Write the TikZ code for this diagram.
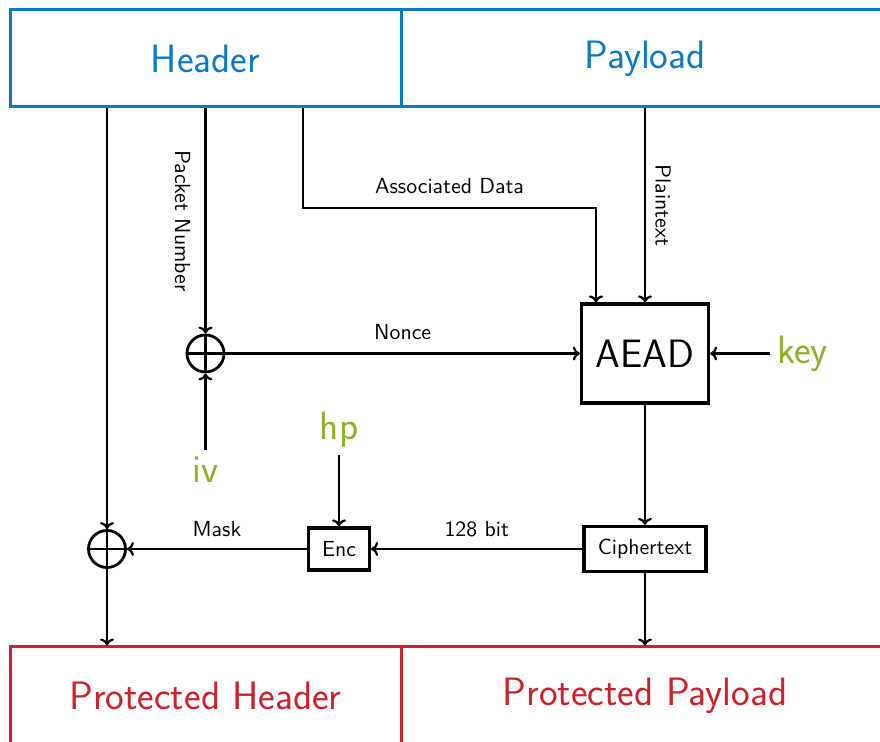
\documentclass[tikz,border=0pt]{standalone}
\usepackage{fontspec}
\usetikzlibrary{arrows.meta}
\definecolor{hdrblue}{RGB}{10,122,194}
\definecolor{prtred}{RGB}{206,32,42}
\definecolor{keygreen}{RGB}{140,178,42}
\begin{document}
\begin{tikzpicture}[x=0.5pt,y=-0.5pt,
  big/.style={font=\sffamily\fontsize{19.8}{23}\selectfont},
  small/.style={font=\sffamily\fontsize{10.9}{13}\selectfont},
  field/.style={draw=#1, text=#1, line width=1.5pt, minimum height=48.5pt,
    inner sep=0pt, big},
  block/.style={draw, line width=1.6pt, inner sep=0pt},
  secret/.style={big, text=keygreen},
  xorop/.style={circle, draw, line width=1.4pt, minimum size=18.5pt, inner sep=0pt,
    path picture={\draw[line width=1.1pt]
      (path picture bounding box.north) -- (path picture bounding box.south)
      (path picture bounding box.west) -- (path picture bounding box.east);}},
  flow/.style={line width=1.1pt, -{To[length=3.5pt,width=7pt]}},
  lbl/.style={small, inner sep=0pt}]
\useasboundingbox (0,0) rectangle (880,742);
\clip (0,0) rectangle (880,742);

% packet fields
\node[field=hdrblue, minimum width=195.5pt] (hdr) at (205.5,58.5) {Header};
\node[field=hdrblue, minimum width=244pt] (pay) at (645,58.5) {Payload};
\node[field=prtred, minimum width=195.5pt] (phdr) at (205.5,695.5) {Protected Header};
\node[field=prtred, minimum width=244pt] (ppay) at (645,695.5) {Protected Payload};

% operations
\node[block, minimum width=63.5pt, minimum height=49.5pt, big] (aead) at (645,353.5) {AEAD};
\node[block, minimum width=61pt, minimum height=22.5pt, small] (ciph) at (645,549) {Ciphertext};
\node[block, minimum width=30.5pt, minimum height=21pt, small] (enc) at (339,549) {Enc};
\node[xorop] (xor1) at (205.5,353.5) {};
\node[xorop] (xor2) at (107,549) {};

% secrets
\node[secret, anchor=west] (key) at (770,353.5) {key};
\node[secret, anchor=base] (iv) at (205.5,483) {iv};
\node[secret, anchor=base] (hp) at (339,440) {hp};

% helper points for the associated-data path
\coordinate (adx) at (303,0);
\coordinate (adbend) at (596,208);

% header and payload into AEAD
\draw[flow] (hdr.south -| xor1) -- node[lbl, midway, xshift=-11.5pt, rotate=-90] {Packet Number} (xor1);
\draw[flow] (hdr.south -| adx) |- node[lbl, pos=0.75, yshift=11pt] {Associated Data} (adbend) -- (aead.north -| adbend);
\draw[flow] (pay.south) -- node[lbl, midway, xshift=9pt, rotate=-90] {Plaintext} (aead.north);
\draw[flow] (iv) -- (xor1);
\draw[flow] (xor1) -- node[lbl, midway, yshift=10.5pt] {Nonce} (aead.west);
\draw[flow] (key) -- (aead);

% header protection
\draw[flow] (aead.south) -- (ciph.north);
\draw[flow] (ciph.west) -- node[lbl, midway, yshift=10pt] {128 bit} (enc.east);
\draw[flow] (hp) -- (enc);
\draw[flow] (enc.west) -- node[lbl, midway, yshift=10pt] {Mask} (xor2);
\draw[flow] (hdr.south -| xor2) -- (xor2);
\draw[flow] (xor2) -- (phdr.north -| xor2);
\draw[flow] (ciph.south) -- (ppay.north);
\end{tikzpicture}
\end{document}
